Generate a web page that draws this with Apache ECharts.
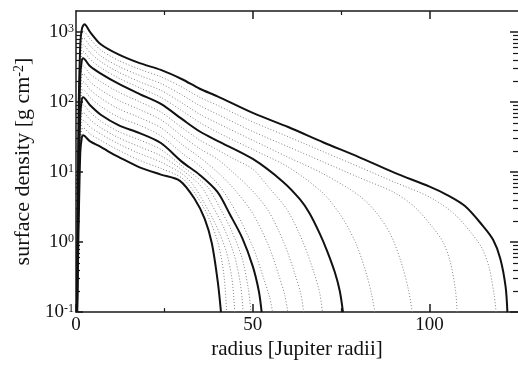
<!DOCTYPE html>
<html><head><meta charset="utf-8">
<script src="https://cdn.jsdelivr.net/npm/echarts@6/dist/echarts.min.js"></script>
<style>html,body{margin:0;padding:0;background:#fff}#c{width:518px;height:365px}</style>
</head><body><div id="c"></div>
<script>
// tick values
const xTickValues = [0, 50, 100];
const xMinorTicks = [25, 75];
const yMajorTicks = [0.1, 1, 10, 100, 1000];
const yMinorTicks = [0.2,0.3,0.4,0.5,0.6,0.7,0.8,0.9, 2,3,4,5,6,7,8,9, 20,30,40,50,60,70,80,90, 200,300,400,500,600,700,800,900];

// surface density profiles [radius (R_J), sigma (g cm^-2)]
const thick1 = [[0.3,0.1],[0.7,50],[1.2,640],[1.7,1130],[2.4,1290],[4,1000],[7,670],[12,480],[18,360],[24,288],[30,212],[35,155],[40,121],[50,70],[60,44],[70,26.5],[80,16.4],[90,9.8],[100,6.2],[105,4.7],[110,3.27],[115,1.72],[118,1.07],[120,0.58],[121.5,0.23],[122,0.1]];
const dotA1 = [[0.3,0.1],[0.7,41],[1.2,570],[1.6,930],[2,1030],[4,798],[7,553],[12,394],[18,294],[24,230],[30,163],[35,117],[40,90],[50,52],[60,32],[70,19.5],[80,11.9],[90,7.2],[100,4.4],[106.8,2.57],[111.8,1.35],[114.8,0.82],[116.8,0.44],[118.3,0.17],[118.8,0.1]];
const dotA2 = [[0.3,0.1],[0.7,33],[1.2,450],[1.6,740],[2,824],[4,637],[7,457],[12,325],[18,240],[24,184],[30,126],[35,89],[40,67],[50,38],[60,23],[70,13.9],[80,8.4],[90,5.1],[95.8,3.16],[100.8,1.64],[103.8,1.0],[105.8,0.53],[107.3,0.21],[107.8,0.1]];
const dotA3 = [[0.3,0.1],[0.7,26],[1.2,360],[1.6,590],[2,659],[4,508],[7,377],[12,268],[18,195],[24,147],[30,97],[35,67],[40,50],[50,28.4],[60,16.3],[70,9.4],[80.1,4.6],[85.1,2.57],[89.1,1.24],[92.1,0.49],[94.1,0.2],[95.1,0.1]];
const dotA4 = [[0.3,0.1],[0.7,21],[1.2,290],[1.6,475],[2,527],[4,406],[7,311],[12,221],[18,160],[24,117],[30,75],[35,51],[40,37],[50,21],[60,11.8],[69.5,5.2],[74.5,2.57],[79,1.0],[82,0.37],[83.7,0.17],[84.5,0.1]];
const thick2 = [[0.3,0.1],[0.7,17],[1.2,232],[1.6,380],[2,422],[4,324],[7,255],[12,183],[18,130],[24,94],[30,57],[35,38],[40,28],[50,15.4],[58.5,7.3],[63.3,4.1],[66,2.6],[68.9,1.33],[71,0.75],[73.2,0.37],[74.6,0.2],[75.5,0.1]];
const dotB1 = [[0.3,0.1],[0.7,13],[1.2,180],[1.6,295],[2,327],[4,251],[7,196],[12,139],[18,101],[24,72],[30,43],[35,28.7],[40,20.8],[45,15.1],[50,11.0],[54.7,5.9],[59.7,2.9],[64.2,1.0],[67.2,0.38],[68.9,0.19],[69.7,0.1]];
const dotB2 = [[0.3,0.1],[0.7,10],[1.2,139],[1.6,228],[2,253],[4,194],[7,149],[12,106],[18,78],[24,56],[30,32.7],[35,21.6],[40,15.3],[44,10.3],[49.4,5.75],[54.4,2.8],[58.9,0.95],[61.9,0.35],[63.6,0.18],[64.4,0.1]];
const dotB3 = [[0.3,0.1],[0.7,7.8],[1.2,107],[1.6,176],[2,195],[4,150],[7,114],[12,80.5],[18,60],[24,43],[30,24.7],[35,16.2],[40,10],[44.9,5.6],[49.9,2.6],[54.4,0.9],[57.4,0.33],[59.1,0.17],[59.9,0.1]];
const dotB4 = [[0.3,0.1],[0.7,6],[1.2,83],[1.6,136],[2,151],[4,116],[7,87],[12,61],[18,46.6],[24,33],[30,18.6],[35,12.2],[40.6,6.3],[45.6,2.5],[50.1,0.83],[53.1,0.3],[54.8,0.16],[55.6,0.1]];
const thick3 = [[0.3,0.1],[0.7,4.7],[1.2,64],[1.6,105],[2,117],[4,90],[7,66],[12,47],[18,36],[24,26],[30,14],[35,9.1],[40,5.2],[43.5,2.5],[47,1.15],[50,0.45],[51.7,0.2],[52.5,0.1]];
const dotC1 = [[0.3,0.1],[0.7,3.6],[1.2,50],[1.6,82],[2,91],[4,71],[7,53.5],[12,38],[18,28.8],[24,21],[30,12.2],[35,7.8],[37.5,5.9],[40.5,3.2],[44,1.45],[47,0.58],[48.7,0.22],[49.5,0.1]];
const dotC2 = [[0.3,0.1],[0.7,2.8],[1.2,39],[1.6,64],[2,71],[4,56],[7,43],[12,31],[18,23],[24,17.1],[30,10.7],[35.3,6.3],[38.3,3.5],[41.8,1.6],[44.8,0.64],[46.5,0.25],[47.3,0.1]];
const dotC3 = [[0.3,0.1],[0.7,2.2],[1.2,30],[1.6,50],[2,55],[4,44],[7,35],[12,25.3],[18,18.4],[24,13.9],[30,9.4],[32.9,6.8],[35.9,3.9],[39.4,1.82],[42.4,0.76],[44.1,0.3],[44.9,0.1]];
const dotC4 = [[0.3,0.1],[0.7,1.7],[1.2,24],[1.6,39],[2,43],[4,35],[7,28.3],[12,20.6],[18,14.7],[24,11.3],[30,8.2],[33.6,5.0],[37.1,2.5],[40.1,1.0],[41.8,0.35],[42.6,0.1]];
const thick4 = [[0.3,0.1],[0.7,1.3],[1.2,18.4],[1.6,30],[2,33.5],[4,27.5],[7,23],[9.6,19.1],[12,16.5],[18,11.7],[24,9.2],[29.4,7.5],[33.6,4.1],[36.4,2.15],[38.4,0.97],[40.1,0.27],[41,0.1]];

const dottedCurves = [dotA1, dotA2, dotA3, dotA4, dotB1, dotB2, dotB3, dotB4, dotC1, dotC2, dotC3, dotC4];
const thickCurves = [thick1, thick2, thick3, thick4];

const FONT = 'Liberation Serif';
const AX = '#1a1a1a';

const series = [];
dottedCurves.forEach(d => series.push({
  type: 'line', data: d, showSymbol: false, smooth: 0.3, clip: true, silent: true,
  lineStyle: { color: '#808080', width: 1, type: [1, 2] }
}));
thickCurves.forEach(d => series.push({
  type: 'line', data: d, showSymbol: false, smooth: 0.3, clip: true, silent: true,
  lineStyle: { color: '#111', width: 2 }
}));

const logAxisBase = { type: 'log', logBase: 10, min: 0.1, max: 2000, splitLine: { show: false } };
const xBase = { type: 'value', min: 0, max: 125, splitLine: { show: false } };
const lineOn = { show: true, onZero: false, lineStyle: { color: AX, width: 1.5 } };
const lineOff = { show: false, onZero: false };

const chart = echarts.init(document.getElementById('c'), null, { renderer: 'canvas' });
chart.setOption({
  animation: false,
  backgroundColor: '#fff',
  grid: { left: 76, right: 0, top: 11, bottom: 44, containLabel: false },
  xAxis: [Object.assign({}, xBase, {
    position: 'bottom',
    axisLine: lineOn,
    axisTick: { inside: true, length: 8, lineStyle: { color: AX, width: 1.5 }, customValues: xTickValues },
    axisLabel: { customValues: xTickValues, margin: 3, fontFamily: FONT, fontSize: 19, color: '#111' },
    name: 'radius [Jupiter radii]', nameLocation: 'middle', nameGap: 24,
    nameTextStyle: { fontFamily: FONT, fontSize: 21, color: '#111' }
  }), Object.assign({}, xBase, {
    position: 'top',
    axisLine: lineOn,
    axisTick: { inside: true, length: 8, lineStyle: { color: AX, width: 1.5 }, customValues: [50, 100] },
    axisLabel: { show: false }
  }), Object.assign({}, xBase, {
    position: 'bottom',
    axisLine: lineOff,
    axisTick: { inside: true, length: 4, lineStyle: { color: AX, width: 1.2 }, customValues: xMinorTicks },
    axisLabel: { show: false }
  }), Object.assign({}, xBase, {
    position: 'top',
    axisLine: lineOff,
    axisTick: { inside: true, length: 4, lineStyle: { color: AX, width: 1.2 }, customValues: xMinorTicks },
    axisLabel: { show: false }
  })],
  yAxis: [Object.assign({}, logAxisBase, {
    position: 'left',
    axisLine: lineOn,
    axisTick: { inside: true, length: 7, lineStyle: { color: AX, width: 1.5 }, customValues: yMajorTicks },
    axisLabel: {
      customValues: yMajorTicks, margin: 2,
      formatter: v => '{b|10}{e|' + Math.round(Math.log10(v)) + '}',
      rich: {
        b: { fontFamily: FONT, fontSize: 19, color: '#111' },
        e: { fontFamily: FONT, fontSize: 12, color: '#111', verticalAlign: 'top' }
      }
    },
    name: 'surface density [g cm{s|-2}]', nameLocation: 'middle', nameGap: 33,
    nameTextStyle: { fontFamily: FONT, fontSize: 22, color: '#111',
      rich: { s: { fontFamily: FONT, fontSize: 14, color: '#111', verticalAlign: 'top' } } }
  }), Object.assign({}, logAxisBase, {
    position: 'left',
    axisLine: lineOff,
    axisTick: { inside: true, length: 4, lineStyle: { color: AX, width: 1.2 }, customValues: yMinorTicks },
    axisLabel: { show: false }
  }), Object.assign({}, logAxisBase, {
    position: 'right',
    axisLine: lineOff,
    axisTick: { inside: true, length: 8, lineStyle: { color: AX, width: 1.5 }, customValues: yMajorTicks },
    axisLabel: { show: false }
  }), Object.assign({}, logAxisBase, {
    position: 'right',
    axisLine: lineOff,
    axisTick: { inside: true, length: 5, lineStyle: { color: AX, width: 1.2 }, customValues: yMinorTicks },
    axisLabel: { show: false }
  })],
  series: series
});
</script></body></html>
